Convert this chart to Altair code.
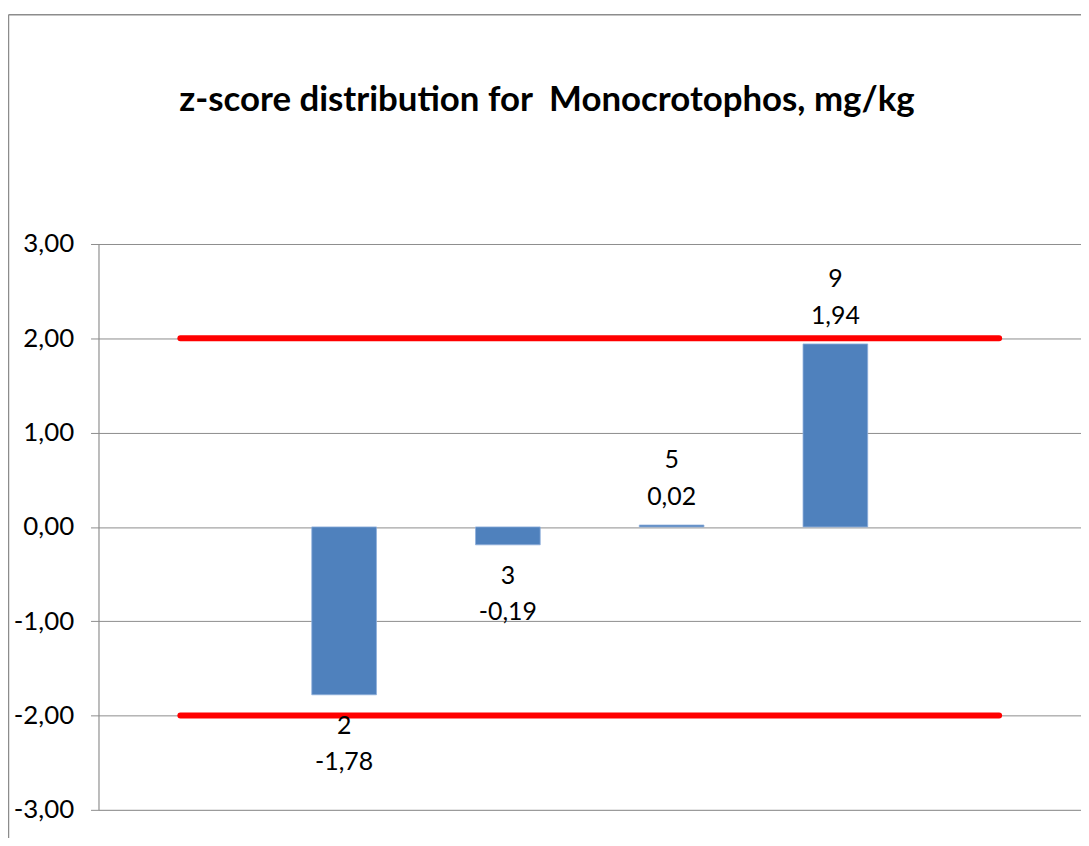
import altair as alt
import pandas as pd

# ---- data ----
slots = ["s0", "2", "3", "5", "9", "s5"]          # category slots along x
lab_codes = ["", "2", "3", "5", "9", ""]           # lab codes shown in labels
z_scores = [None, -1.78, -0.19, 0.02, 1.94, None]  # z-score per slot
upper_limit = [2, 2, 2, 2, 2, 2]
lower_limit = [-2, -2, -2, -2, -2, -2]
y_ticks = [-3, -2, -1, 0, 1, 2, 3]
title_text = "z-score distribution for \u00a0Monocrotophos, mg/kg"


def fmt(v):
    return f"{v:.2f}".replace(".", ",")


bars = pd.DataFrame({
    "slot": slots,
    "z": z_scores,
    "label": [f"{c}\n{fmt(v)}" if v is not None else "" for c, v in zip(lab_codes, z_scores)],
}).dropna()

limits = pd.DataFrame({
    "slot": slots * 2,
    "limit": upper_limit + lower_limit,
    "which": ["upper"] * len(slots) + ["lower"] * len(slots),
})

title_df = pd.DataFrame({"title": [title_text]})

FONT = "Lato"
GRID = "#8c8c8c"

xscale = alt.Scale(domain=slots, paddingInner=0.605, paddingOuter=0.3025)
yscale = alt.Scale(domain=[-3, 3], nice=False, zero=False)

x_enc = alt.X("slot:N", scale=xscale, axis=None, sort=slots)

bar_layer = alt.Chart(bars).mark_bar(color="#4F81BD", stroke="#8eaedb", strokeWidth=0.8).encode(
    x=x_enc,
    y=alt.Y(
        "z:Q",
        scale=yscale,
        axis=alt.Axis(
            values=y_ticks,
            title=None,
            grid=True,
            gridColor=GRID,
            gridWidth=1,
            domainColor=GRID,
            domainWidth=1,
            tickColor=GRID,
            tickSize=8,
            tickWidth=1,
            labelFont=FONT,
            labelFontSize=26,
            labelColor="black",
            labelPadding=17,
            labelExpr="replace(replace(format(datum.value, '.2f'), '.', ','), '\u2212', '-')",
        ),
    ),
)

limit_layer = alt.Chart(limits).mark_line(color="#FF0000", strokeWidth=6, strokeCap="round").encode(
    x=x_enc,
    y=alt.Y("limit:Q", scale=yscale),
    detail="which:N",
)

neg_labels = alt.Chart(bars).transform_filter("datum.z < 0").mark_text(
    font=FONT, fontSize=25, color="black", lineBreak="\n", lineHeight=37,
    baseline="middle", align="center", dy=31,
).encode(x=x_enc, y=alt.Y("z:Q", scale=yscale), text="label:N")

pos_labels = alt.Chart(bars).transform_filter("datum.z >= 0").mark_text(
    font=FONT, fontSize=25, color="black", lineBreak="\n", lineHeight=37,
    baseline="middle", align="center", dy=-65,
).encode(x=x_enc, y=alt.Y("z:Q", scale=yscale), text="label:N")

# chart title, centred over the whole chart frame
title_layer = alt.Chart(title_df).mark_text(
    font=FONT, fontSize=35, fontWeight="bold", color="black",
    align="center", baseline="alphabetic",
).encode(x=alt.value(451), y=alt.value(-134), text="title:N")

# outer chart-area frame (left and top edges visible)
frame_left = alt.Chart(title_df).mark_rule(color=GRID, strokeWidth=1.5).encode(
    x=alt.value(-90.5), y=alt.value(-230.5), y2=alt.value(700)
)
frame_top = alt.Chart(title_df).mark_rule(color=GRID, strokeWidth=1.5).encode(
    y=alt.value(-230.5), x=alt.value(-90.5), x2=alt.value(1100)
)

chart = alt.layer(
    frame_left, frame_top, bar_layer, limit_layer, neg_labels, pos_labels, title_layer
).properties(
    width=988,
    height=569,
    autosize=alt.AutoSizeParams(type="none"),
    padding={"left": 91, "top": 235, "right": 0, "bottom": 26},
).configure_view(stroke=None).configure(background="white")

chart.save("out.html", embed_options={"renderer": "svg", "actions": False})
